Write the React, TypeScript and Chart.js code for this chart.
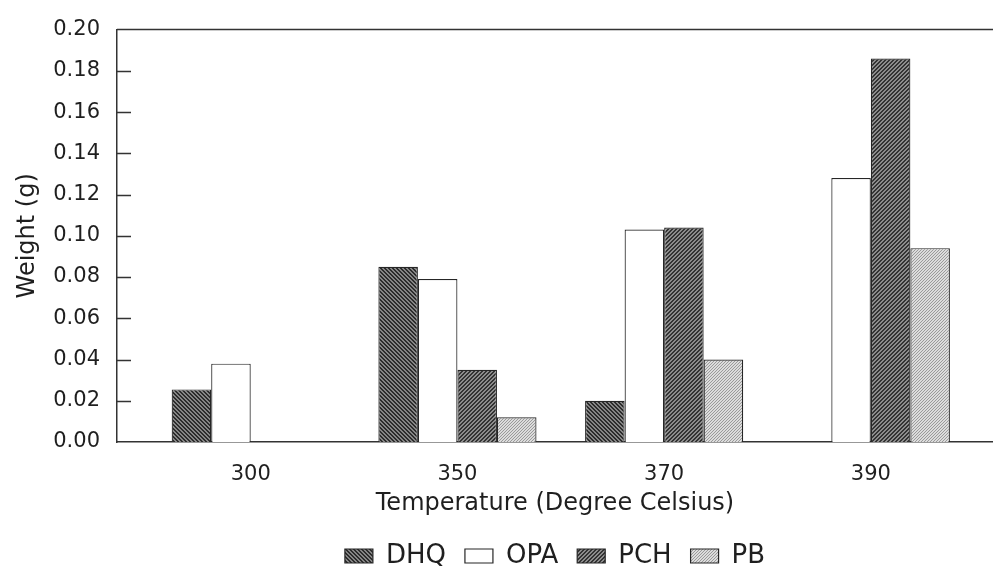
import React, { useEffect, useRef } from "react";
import { Chart, registerables } from "chart.js";

Chart.register(...registerables);

// ---- data ----
const categories = ["300", "350", "370", "390"];
const seriesNames = ["DHQ", "OPA", "PCH", "PB"];
const dhqValues: (number | null)[] = [0.0255, 0.085, 0.02, null];
const opaValues: (number | null)[] = [0.038, 0.079, 0.103, 0.128];
const pchValues: (number | null)[] = [null, 0.035, 0.104, 0.186];
const pbValues: (number | null)[] = [null, 0.012, 0.04, 0.094];
const yTicks = [0, 0.02, 0.04, 0.06, 0.08, 0.1, 0.12, 0.14, 0.16, 0.18, 0.2];

const FONT = "'DejaVu Sans', 'Liberation Sans', sans-serif";
const TEXT = "#1f1f1f";
const AXIS = "#333333";

function makePattern(
  ctx: CanvasRenderingContext2D,
  size: number,
  dark: string,
  light: string,
  isDark: (x: number, y: number) => boolean
) {
  const c = document.createElement("canvas");
  c.width = size;
  c.height = size;
  const g = c.getContext("2d")!;
  g.fillStyle = light;
  g.fillRect(0, 0, size, size);
  g.fillStyle = dark;
  for (let y = 0; y < size; y++) {
    for (let x = 0; x < size; x++) {
      if (isDark(x, y)) g.fillRect(x, y, 1, 1);
    }
  }
  return ctx.createPattern(c, "repeat") as CanvasPattern;
}

const framePlugin = {
  id: "frame",
  afterDraw(chart: any) {
    const { ctx, chartArea: a, scales } = chart;
    const y = scales.y;
    ctx.save();
    ctx.strokeStyle = AXIS;
    ctx.lineWidth = 1.5;
    ctx.beginPath();
    ctx.moveTo(a.left, a.top);
    ctx.lineTo(a.right, a.top);
    yTicks.forEach((v) => {
      if (v <= 0 || v >= 0.2) return;
      const py = Math.round(y.getPixelForValue(v)) + 0.5;
      ctx.moveTo(a.left, py);
      ctx.lineTo(a.left + 14, py);
    });
    ctx.stroke();
    ctx.restore();
  },
};

export default function App() {
  const ref = useRef<HTMLCanvasElement | null>(null);

  useEffect(() => {
    const canvas = ref.current;
    if (!canvas) return;
    const ctx = canvas.getContext("2d")!;

    const dhqFill = makePattern(ctx, 4, "#2c2c2c", "#858585", (x, y) => ((x - y + 8) % 4) < 2);
    const pchFill = makePattern(ctx, 4, "#333333", "#8c8c8c", (x, y) => ((x + y) % 4) < 2);
    const pbFill = makePattern(ctx, 3, "#9a9a9a", "#dcdcdc", (x, y) => (x + y) % 3 === 0);

    const fills = [dhqFill, "#ffffff", pchFill, pbFill];
    const values = [dhqValues, opaValues, pchValues, pbValues];

    const chart = new Chart(ctx, {
      type: "bar",
      data: {
        datasets: seriesNames.map((name, k) => ({
          label: name,
          data: values[k].map((v, i) => ({ x: i, y: v })),
          backgroundColor: fills[k] as any,
          borderColor: "#262626",
          borderWidth: 1.2,
          borderSkipped: "start",
          categoryPercentage: 0.765,
          barPercentage: 1,
        })),
      },
      options: {
        animation: false,
        responsive: false,
        devicePixelRatio: 1,
        layout: { padding: { top: 28, bottom: -10, left: 0, right: 0 } },
        plugins: {
          tooltip: { enabled: false },
          legend: {
            position: "bottom",
            fullSize: false,
            labels: {
              font: { family: FONT, size: 26 },
              color: TEXT,
              boxWidth: 28,
              boxHeight: 14,
              padding: 19,
            },
          },
        },
        scales: {
          x: {
            type: "linear",
            offset: false,
            bounds: "data",
            min: -0.647,
            max: 3.591,
            grid: { display: false, drawTicks: false },
            border: { display: true, color: AXIS, width: 1.5 },
            afterBuildTicks: (s: any) => {
              s.ticks = categories.map((_, i) => ({ value: i }));
            },
            afterFit: (s: any) => {
              s.height = 82;
            },
            ticks: {
              callback: (v: any) => categories[Number(v)] ?? "",
              font: { family: FONT, size: 21 },
              color: TEXT,
              padding: 20,
              maxRotation: 0,
              autoSkip: false,
            },
            title: {
              display: true,
              text: "Temperature (Degree Celsius)",
              font: { family: FONT, size: 24 },
              color: TEXT,
              padding: { top: 0, bottom: 6 },
            },
          },
          y: {
            min: 0,
            max: 0.2,
            bounds: "data",
            grid: { display: false, drawTicks: false },
            border: { display: true, color: AXIS, width: 1.5 },
            afterBuildTicks: (s: any) => {
              s.ticks = yTicks.map((v) => ({ value: v }));
            },
            afterFit: (s: any) => {
              s.width = 117;
            },
            ticks: {
              callback: (v: any) => Number(v).toFixed(2),
              font: { family: FONT, size: 21 },
              color: TEXT,
              padding: 17,
            },
            title: {
              display: true,
              text: "Weight (g)",
              font: { family: FONT, size: 24 },
              color: TEXT,
              padding: { top: 13, bottom: 0 },
            },
          },
        },
      },
      plugins: [framePlugin],
    } as any);

    return () => chart.destroy();
  }, []);

  return (
    <div style={{ position: "fixed", left: 0, top: 0, width: 993, height: 569, background: "#fff" }}>
      <canvas ref={ref} width={993} height={569} style={{ display: "block" }} />
    </div>
  );
}
